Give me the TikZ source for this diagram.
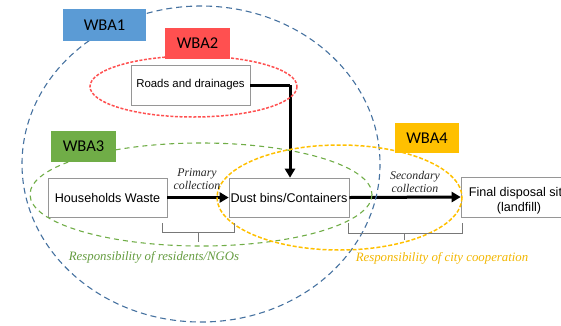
\documentclass[tikz,border=0pt]{standalone}
\usepackage{fontspec}
\setmainfont{Liberation Sans}
\newfontfamily\calib{Carlito}
\newfontfamily\tnr{Liberation Serif}
\usetikzlibrary{arrows.meta}
\definecolor{wbablue}{HTML}{5B9BD5}
\definecolor{wbared}{HTML}{FF5050}
\definecolor{wbagreen}{HTML}{70AD47}
\definecolor{wbayellow}{HTML}{FFC000}
\definecolor{ellblue}{RGB}{70,114,160}
\definecolor{boxgray}{RGB}{150,150,150}
\tikzset{
  procbox/.style={draw=boxgray, line width=0.6pt, fill=white, inner sep=0pt, font=\fontsize{12.6}{15}\selectfont},
  wbabox/.style={inner sep=0pt, font=\calib\fontsize{16.5}{17}\selectfont},
  flow/.style={line width=3pt, -{Triangle[length=9pt,width=10pt]}},
  note/.style={font=\tnr\itshape\fontsize{11.8}{13.5}\selectfont, align=center, text=black!85},
  resp/.style={font=\tnr\itshape\fontsize{12.8}{14}\selectfont},
  bracket/.style={draw=boxgray!80!black, line width=0.7pt},
}
\begin{document}
\begin{tikzpicture}[x=1pt,y=-1pt]
\useasboundingbox (0,0) rectangle (561,325);
\clip (0,0) rectangle (561,325);

% process boxes
\node[procbox, minimum width=119pt, minimum height=39pt] (house) at (107.5,197.5) {Households Waste};
\node[procbox, minimum width=120pt, minimum height=39pt] (dust) at (289,197.5) {Dust bins/Containers};
\node[procbox, minimum width=116pt, minimum height=40pt] (final) at (519,197) {};
\node[procbox, draw=none, fill=none, align=center] (finaltxt) at (519,200.5) {Final disposal site\\(landfill)};
\node[procbox, minimum width=119pt, minimum height=40pt, font=\fontsize{11.4}{13}\selectfont] (roads) at (190.5,85) {Roads and drainages};

% flows
\coordinate (bend) at (290,85);
\draw[line width=3pt] (roads.east) -- (bend);
\draw[flow] (bend) -- (bend |- dust.north);
\draw[flow] (house.east) -- (dust.west);
\draw[flow] (dust.east) -- (final.west);

% ellipses
\draw[ellblue, line width=1.1pt, dash pattern=on 6pt off 4pt] (201,164) ellipse [x radius=179, y radius=158];
\draw[wbared, line width=1.5pt, dash pattern=on 3pt off 1.6pt] (193.5,86.5) ellipse [x radius=103.5, y radius=30.5];
\draw[wbagreen, line width=1.1pt, dash pattern=on 5pt off 4pt] (201,194.5) ellipse [x radius=171, y radius=51.5];
\draw[wbayellow, line width=1.5pt, dash pattern=on 4pt off 2pt] (339.5,197.5) ellipse [x radius=122.5, y radius=52.5];

% labels on flows
\node[note] (prim) at (197,179) {Primary\\collection};
\node[note] (sec) at (415,182) {Secondary\\collection};

% brackets
\draw[bracket] (162,223) -- (162,232) -- (234,232) -- (234,223);
\draw[bracket] (198,232) -- (198,242);
\draw[bracket] (348,223) -- (348,233) -- (462,233) -- (462,223);
\draw[bracket] (404,233) -- (404,240);

% responsibilities
\node[resp, text=wbagreen!90!black] (respres) at (154,257) {Responsibility of residents/NGOs};
\node[resp, text=wbayellow!95!black] (respcity) at (442,258) {Responsibility of city cooperation};

% WBA labels
\node[wbabox, fill=wbablue, minimum width=83pt, minimum height=32pt] (w1) at (104.5,25) {WBA1};
\node[wbabox, fill=wbared, minimum width=65pt, minimum height=31pt] (w2) at (197.5,43.5) {WBA2};
\node[wbabox, fill=wbagreen, minimum width=65pt, minimum height=31pt] (w3) at (83.5,146.5) {WBA3};
\node[wbabox, fill=wbayellow, minimum width=64pt, minimum height=30pt] (w4) at (427,138) {WBA4};
\end{tikzpicture}
\end{document}
